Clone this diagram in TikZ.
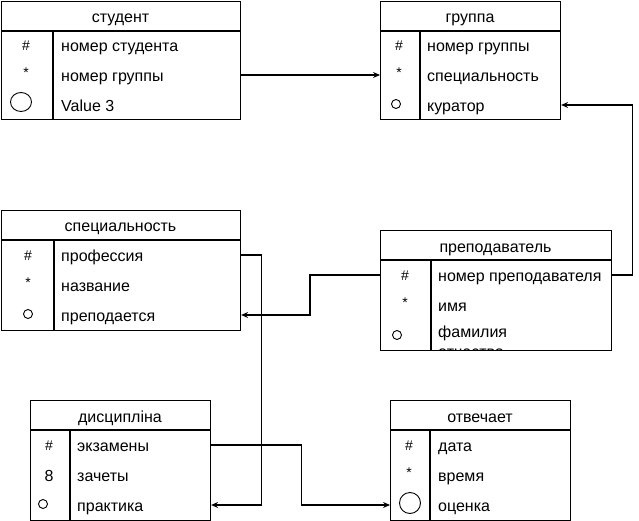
\documentclass[tikz,border=0pt]{standalone}
\usepackage{fontspec}
\setmainfont{Liberation Sans}
\usetikzlibrary{arrows.meta,shapes.geometric}
\tikzset{
  tbl/.style={draw, line width=1.1pt, inner sep=0pt, fill=white},
  sepline/.style={line width=1.1pt},
  rowtxt/.style={anchor=base west, inner sep=0pt, font=\fontsize{16}{19}\selectfont},
  symtxt/.style={inner sep=0pt, font=\fontsize{14}{17}\selectfont},
  bigsym/.style={anchor=base, inner sep=0pt, font=\fontsize{16}{19}\selectfont},
  titletxt/.style={anchor=base, inner sep=0pt, font=\fontsize{16}{19}\selectfont},
  optcircle/.style={draw, line width=0.9pt},
  conn/.style={draw, line width=1.1pt, -{Stealth[length=7pt,width=6pt,inset=2.5pt]}},
}
% #1 name, #2 left, #3 top, #4 width, #5 height, #6 divider x (absolute), #7 title
\newcommand\ertab[7]{%
  \node[tbl, minimum width=#4pt, minimum height=#5pt, anchor=north west] (#1) at (#2,-#3) {};
  \draw[sepline] (#2,-#3-30) -- (#2+#4,-#3-30);
  \draw[sepline] (#6,-#3-30) -- (#6,-#3-#5);
  \node[titletxt] (#1-title) at (#2+#4/2,-#3-22) {#7};
}
% #1 node name, #2 x, #3 row centre y, #4 text
\newcommand\errow[4]{\coordinate (#1-c) at (#2,-#3);\node[rowtxt] (#1) at (#2,-#3-6.5) {#4};}
\newcommand\ersym[4]{\node[symtxt] (#1) at (#2,-#3) {#4};}
\begin{document}
\begin{tikzpicture}[x=1pt,y=1pt]
\useasboundingbox (0,0) rectangle (639,-521);

% студент
\ertab{stud}{1}{1}{239}{118}{53}{студент}
\ersym{stud-s1}{26}{46}{\#}
\ersym{stud-s2}{26}{73}{*}
\node[optcircle, ellipse, minimum width=21pt, minimum height=19pt, inner sep=0pt] (stud-s3) at (21,-102) {};
\errow{stud-1}{61}{45}{номер студента}
\errow{stud-2}{61}{75}{номер группы}
\errow{stud-3}{61}{105}{Value 3}

% группа
\ertab{grp}{380}{1}{180}{118}{420}{группа}
\ersym{grp-s1}{399}{46}{\#}
\ersym{grp-s2}{399}{73}{*}
\node[optcircle, circle, minimum size=9pt, inner sep=0pt] (grp-s3) at (396,-104) {};
\errow{grp-1}{427}{45}{номер группы}
\errow{grp-2}{427}{75}{специальность}
\errow{grp-3}{427}{105}{куратор}

% специальность
\ertab{spec}{1}{210}{239}{120}{54}{специальность}
\ersym{spec-s1}{28}{256}{\#}
\ersym{spec-s2}{28}{283}{*}
\node[optcircle, circle, minimum size=9pt, inner sep=0pt] (spec-s3) at (28,-314) {};
\errow{spec-1}{61}{255}{профессия}
\errow{spec-2}{61}{285}{название}
\errow{spec-3}{61}{315}{преподается}

% преподаватель
\ertab{prep}{380}{230}{231}{120}{431}{преподаватель}
\ersym{prep-s1}{405}{276}{\#}
\ersym{prep-s2}{405}{303}{*}
\node[optcircle, circle, minimum size=9pt, inner sep=0pt] (prep-s3) at (397,-335) {};
\errow{prep-1}{438}{275}{номер преподавателя}
\errow{prep-2}{438}{305}{имя}
\begin{scope}
  \clip (380,-320) rectangle (611,-349.5);
  \errow{prep-3}{438}{331}{фамилия}
  \errow{prep-3b}{438}{350.5}{отчество}
\end{scope}

% дисциплiна
\ertab{disc}{30}{400}{180}{120}{70}{дисциплiна}
\ersym{disc-s1}{49}{446}{\#}
\node[bigsym] (disc-s2) at (49,-481) {8};
\node[optcircle, circle, minimum size=9pt, inner sep=0pt] (disc-s3) at (43,-504) {};
\errow{disc-1}{77}{445}{экзамены}
\errow{disc-2}{77}{475}{зачеты}
\errow{disc-3}{77}{505}{практика}

% отвечает
\ertab{otv}{390}{400}{180}{120}{430}{отвечает}
\ersym{otv-s1}{409}{446}{\#}
\ersym{otv-s2}{409}{473}{*}
\node[optcircle, circle, minimum size=21pt, inner sep=0pt] (otv-s3) at (410,-503) {};
\errow{otv-1}{438}{445}{дата}
\errow{otv-2}{438}{475}{время}
\errow{otv-3}{438}{505}{оценка}

% connectors
\draw[conn] (stud.east |- stud-2-c) -- (grp.west |- grp-2-c);
\draw[conn] (prep.east |- prep-1-c) -- ++(20,0) |- (grp.east |- grp-3-c);
\draw[conn] (prep.west |- prep-1-c) -- ++(-70,0) |- (spec.east |- spec-3-c);
\draw[conn] (spec.east |- spec-1-c) -- ++(20,0) |- (disc.east |- disc-3-c);
\draw[conn] (disc.east |- disc-1-c) -- ++(90,0) |- (otv.west |- otv-3-c);
\end{tikzpicture}
\end{document}
